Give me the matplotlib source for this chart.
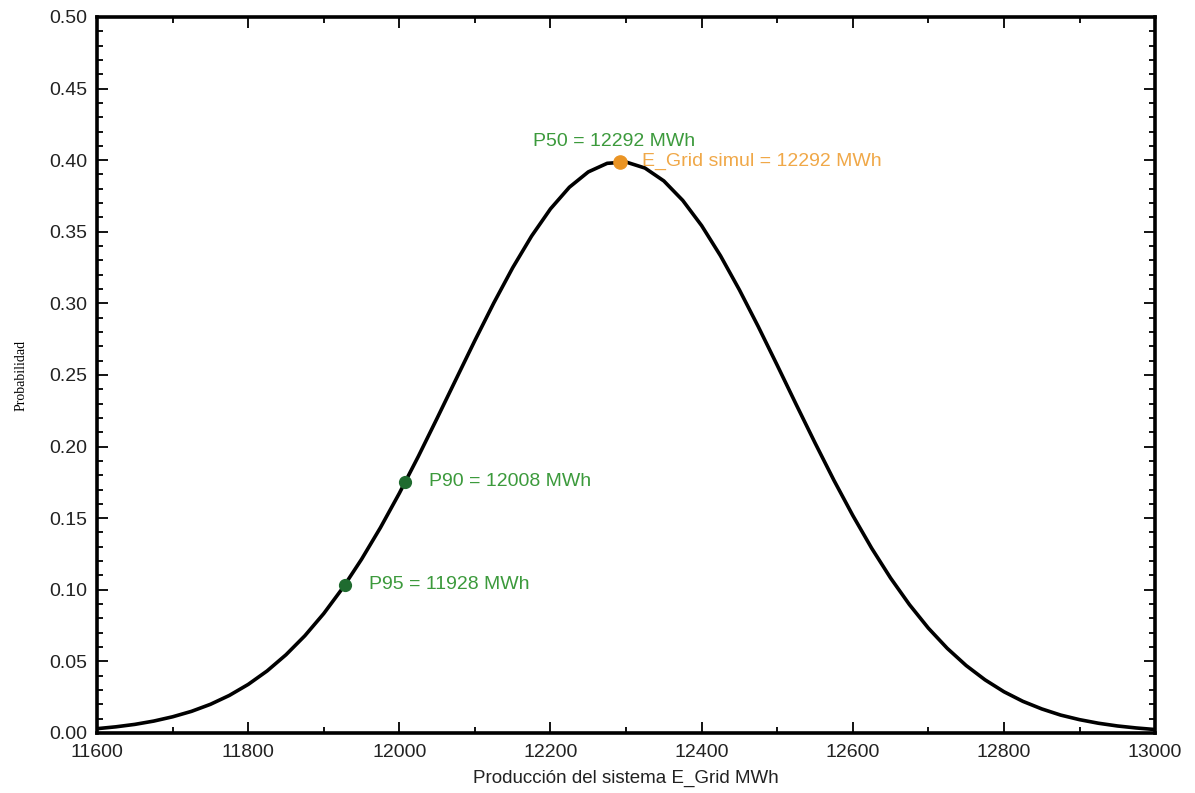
import matplotlib
matplotlib.use('Agg')
import matplotlib.pyplot as plt
from matplotlib.ticker import MultipleLocator

# Curva de probabilidad de la producción (cada 25 MWh)
produccion = list(range(11600, 13001, 25))
probabilidad = [
    0.0030, 0.0043, 0.0060, 0.0083, 0.0113, 0.0151, 0.0200, 0.0262, 0.0339,
    0.0433, 0.0546, 0.0679, 0.0834, 0.1012, 0.1213, 0.1434, 0.1674, 0.1930,
    0.2198, 0.2470, 0.2741, 0.3003, 0.3249, 0.3470, 0.3660, 0.3811, 0.3918,
    0.3978, 0.3987, 0.3945, 0.3855, 0.3719, 0.3543, 0.3332, 0.3094, 0.2837,
    0.2568, 0.2295, 0.2026, 0.1765, 0.1519, 0.1290, 0.1082, 0.0896, 0.0732,
    0.0591, 0.0471, 0.0371, 0.0288, 0.0221, 0.0168, 0.0125, 0.0093, 0.0068,
    0.0049, 0.0035, 0.0024,
]

# Percentiles marcados
p_nombres = ['P95', 'P90']
p_valores = [11928, 12008]
p_prob = [0.1034, 0.1755]
p50_valor = 12292
p50_prob = 0.3989

verde_txt = '#3c9a3c'
verde_pt = '#1f6b2f'
naranja = '#ea9424'
fuente = 'Liberation Sans'

fig = plt.figure(figsize=(11.95, 7.93), dpi=100)
ax = fig.add_axes([0.0812, 0.0757, 0.8854, 0.9029])

ax.plot(produccion, probabilidad, color='black', lw=2.6, zorder=2,
        solid_joinstyle='round')

for nombre, x, y in zip(p_nombres, p_valores, p_prob):
    ax.plot(x, y, 'o', color=verde_pt, ms=8.5, zorder=3)
    ax.annotate(f'{nombre} = {x} MWh', (x, y), xytext=(17, 0),
                textcoords='offset points', va='center', ha='left',
                color=verde_txt, fontsize=14, family=fuente)

ax.plot(p50_valor, p50_prob, 'o', color=naranja, ms=9.5, zorder=3)
ax.annotate(f'P50 = {p50_valor} MWh', (p50_valor, p50_prob), xytext=(-63, 11),
            textcoords='offset points', va='baseline', ha='left',
            color=verde_txt, fontsize=14, family=fuente)
ax.annotate(f'E_Grid simul = {p50_valor} MWh', (p50_valor, p50_prob),
            xytext=(16, 0), textcoords='offset points', va='center',
            ha='left', color='#f0a848', fontsize=14, family=fuente)

ax.set_xlim(11600, 13000)
ax.set_ylim(0, 0.5)
ax.xaxis.set_major_locator(MultipleLocator(200))
ax.xaxis.set_minor_locator(MultipleLocator(100))
ax.yaxis.set_major_locator(MultipleLocator(0.05))
ax.yaxis.set_minor_locator(MultipleLocator(0.01))
ax.yaxis.set_major_formatter(plt.FormatStrFormatter('%.2f'))

ax.tick_params(which='both', direction='in', top=True, right=True,
               width=1.3, labelsize=14, labelcolor='#222222')
ax.tick_params(which='major', length=8)
ax.tick_params(which='minor', length=4)
ax.tick_params(axis='x', pad=8)
ax.tick_params(axis='y', pad=7)
for lbl in ax.get_xticklabels() + ax.get_yticklabels():
    lbl.set_family(fuente)
for s in ax.spines.values():
    s.set_linewidth(2.6)

ax.set_xlabel('Producción del sistema E_Grid MWh', fontsize=13.5,
              family=fuente, color='#222222')
ax.xaxis.set_label_coords(0.5, -0.052)
ax.set_ylabel('Probabilidad', fontsize=10, family='Liberation Serif')
ax.yaxis.set_label_coords(-0.066, 0.5)

fig.savefig('out.png', dpi=100)
